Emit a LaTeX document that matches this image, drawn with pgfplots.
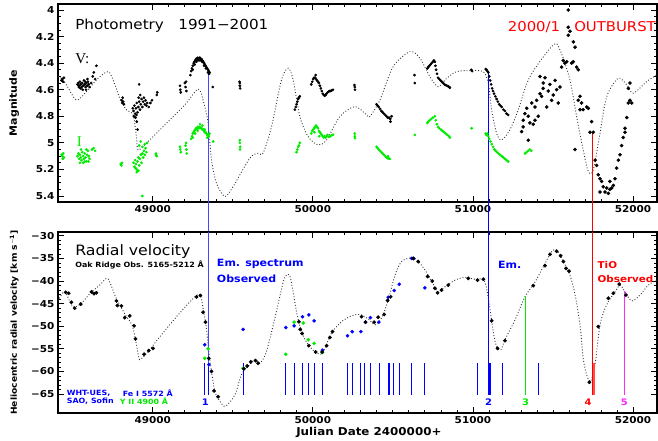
\documentclass[border=0pt]{standalone}
\usepackage{fontspec}
\setmainfont{DejaVu Sans}[FakeStretch=1.1]
\newfontfamily\seriffont{Liberation Serif}
\usepackage{pgfplots}
\pgfplotsset{compat=1.18}
\definecolor{cblue}{RGB}{0,0,255}
\definecolor{lblue}{RGB}{70,70,255}
\definecolor{cgreen}{RGB}{0,235,0}
\definecolor{cred}{RGB}{255,0,0}
\definecolor{cmag}{RGB}{255,40,255}
\newcommand\tickfont{\bfseries\fontsize{9.5}{10}\selectfont}
\pgfplotsset{
  base/.style={
    scale only axis, width=599pt, anchor=south west,
    xmin=48408, xmax=52150, clip=false,
    scaled x ticks=false, scaled y ticks=false,
    axis line style={line width=1.1pt},
    tick style={line width=0.8pt, black},
    major tick length=6pt, minor tick length=3pt, tick align=inside,
    xtick={49000,50000,51000,52000},
    xticklabels={49000,50000,51000,52000},
    minor x tick num=9,
    ticklabel style={font=\tickfont},
    label style={font=\bfseries\fontsize{10}{11}\selectfont},
  },
  dots/.style={only marks, mark=*, mark size=#1, mark options={draw=none}},
}
\begin{document}
\begin{tikzpicture}
\path[use as bounding box] (0pt,0pt) rectangle (658pt,441pt);
% ---------------- Photometry ----------------
\begin{axis}[base, at={(58pt,239pt)}, height=198pt, y dir=reverse,
  ymin=3.955, ymax=5.445,
  ytick={4,4.2,4.4,4.6,4.8,5,5.2,5.4},
  yticklabels={4,4.2,4.4,4.6,4.8,5,5.2,5.4},
  minor y tick num=3,
  ylabel={Magnitude},
  ylabel style={at={(axis description cs:-0.073,0.5)}, anchor=center}]
\addplot[black!80, dotted, line width=0.9pt, smooth, tension=0.5] coordinates {
(48408,4.50) (48429,4.514) (48461,4.564) (48523,4.677) (48586,4.614) (48658,4.514) (48721,4.464) (48752,4.526) (48794,4.664) (48836,4.752) (48877,4.790) (48898,4.953) (48908,5.053) (48961,5.002) (49075,4.865) (49200,4.714) (49283,4.596) (49314,4.677) (49346,4.852) (49367,5.128) (49398,5.303) (49450,5.404) (49502,5.329) (49606,5.115) (49658,5.078) (49689,5.078) (49742,4.878) (49804,4.526) (49846,4.438) (49877,4.526) (49919,4.802) (49971,4.953) (50033,5.015) (50086,4.978) (50169,4.802) (50263,4.727) (50336,4.790) (50356,4.802) (50419,4.677) (50502,4.426) (50606,4.314) (50669,4.363) (50731,4.502) (50783,4.577) (50836,4.514) (50898,4.464) (50981,4.456) (51064,4.464) (51096,4.551) (51117,4.752) (51148,4.927) (51179,4.978) (51231,4.902) (51283,4.752) (51356,4.502) (51502,4.263) (51544,4.301) (51606,4.526) (51648,4.802) (51689,5.053) (51721,5.216) (51752,5.203) (51794,4.927) (51836,4.652) (51908,4.514) (51961,4.564) (52002,4.626) (52085,4.539) (52148,4.489)};
% V small points
\addplot[dots=1.15pt, black] coordinates {
(48430,4.53) (48435,4.52) (48440,4.54) (48445,4.51)
(48530,4.56) (48535,4.55) (48540,4.57) (48545,4.54) (48550,4.56) (48555,4.58) (48560,4.55) (48565,4.57) (48570,4.53) (48575,4.56) (48580,4.58) (48585,4.55) (48590,4.57) (48595,4.54) (48600,4.56) (48605,4.58) (48548,4.59) (48562,4.60) (48578,4.54) (48592,4.52) (48538,4.58) (48583,4.60) (48615,4.55) (48625,4.50) (48632,4.47) (48640,4.52) (48648,4.42)
(48806,4.68) (48810,4.70) (48815,4.69) (48820,4.71) (48812,4.66)
(48875,4.74) (48880,4.76) (48885,4.72) (48890,4.78) (48895,4.74) (48900,4.70) (48905,4.77) (48910,4.73) (48915,4.69) (48920,4.75) (48925,4.71) (48930,4.67) (48935,4.73) (48940,4.69) (48945,4.66) (48950,4.71) (48955,4.68) (48960,4.72) (48965,4.70) (48975,4.73) (48985,4.70) (48995,4.68) (48882,4.80) (48892,4.81) (48898,4.79) (48912,4.66) (48922,4.64) (48900,4.84) (48905,4.90) (48915,4.56) (49025,4.64) (49028,4.62)
(49170,4.57) (49172,4.60) (49175,4.62) (49200,4.55) (49205,4.58) (49210,4.61) (49208,4.54)
(49235,4.49) (49240,4.46) (49245,4.44) (49250,4.42) (49255,4.40) (49260,4.39) (49265,4.38) (49270,4.37) (49275,4.37) (49280,4.36) (49285,4.37) (49290,4.36) (49295,4.36) (49300,4.37) (49305,4.37) (49310,4.38) (49315,4.39) (49320,4.40) (49325,4.41) (49330,4.42) (49335,4.43) (49340,4.44) (49345,4.45) (49350,4.46) (49355,4.47) (49250,4.45) (49262,4.41) (49272,4.39) (49282,4.38) (49295,4.38) (49308,4.39) (49320,4.42) (49332,4.44) (49345,4.47) (49352,4.48) (49375,4.58)
(49544,4.55) (49544,4.57) (49546,4.59) (49542,4.54)
(49888,4.75) (49893,4.73) (49898,4.71) (49903,4.69) (49908,4.67) (49913,4.66) (49918,4.65)
(49990,4.56) (49996,4.54) (50002,4.52) (50008,4.51) (50014,4.51) (50020,4.52) (50026,4.53) (50032,4.54) (50038,4.55) (50044,4.57) (50050,4.59) (50056,4.61) (50062,4.63) (50068,4.64) (50074,4.645) (50080,4.64) (50086,4.63) (50092,4.62) (50098,4.615) (50104,4.61) (50110,4.61) (50118,4.605) (50126,4.60) (50018,4.49)
(50262,4.58) (50263,4.60) (50260,4.565)
(50398,4.71) (50405,4.72) (50412,4.73) (50420,4.745) (50428,4.76) (50436,4.77) (50444,4.78) (50452,4.79) (50460,4.80) (50468,4.81) (50476,4.81) (50484,4.82) (50492,4.80) (50485,4.84)
(50635,4.49) (50637,4.55)
(50715,4.44) (50721,4.43) (50728,4.42) (50735,4.41) (50742,4.40) (50750,4.39) (50756,4.38) (50762,4.39) (50766,4.42) (50770,4.45) (50776,4.48) (50782,4.51) (50790,4.52) (50798,4.53) (50806,4.54) (50814,4.55) (50822,4.56) (50830,4.565) (50838,4.57) (50846,4.575) (50852,4.58) (50856,4.585)
(50990,4.45) (50995,4.46)
(51080,4.445) (51085,4.45) (51090,4.46) (51096,4.47) (51102,4.50) (51108,4.53) (51114,4.56) (51120,4.59) (51126,4.61) (51132,4.63) (51140,4.65) (51148,4.67) (51156,4.69) (51164,4.71) (51172,4.72) (51180,4.73) (51190,4.75) (51200,4.76) (51210,4.78) (51220,4.79)};
% V large points (outburst)
\addplot[dots=1.6pt, black] coordinates {
(51304,4.915) (51314,4.88) (51314,4.83) (51325,4.78) (51336,4.74) (51346,4.80) (51346,4.98) (51356,4.85) (51367,4.70) (51377,4.86) (51388,4.73) (51388,4.83) (51398,4.68) (51408,4.80) (51419,4.50) (51419,4.63) (51429,4.65) (51439,4.55) (51439,4.59) (51450,4.51) (51461,4.73) (51471,4.61) (51481,4.56) (51492,4.68) (51502,4.64) (51513,4.53) (51523,4.60) (51533,4.70) (51544,4.58) (51554,4.43) (51564,4.38) (51575,4.40) (51586,4.39) (51596,4.00) (51596,4.13) (51596,4.19) (51606,4.16) (51617,4.40) (51627,4.24) (51638,4.28) (51627,4.39) (51638,5.05) (51648,4.43) (51658,4.45) (51658,4.68) (51669,4.65) (51669,4.75) (51679,4.70) (51689,4.75) (51711,4.73) (51721,4.74) (51731,4.92) (51742,4.84) (51752,4.92) (51763,5.13) (51773,5.17) (51783,5.24) (51794,5.27) (51804,5.29) (51814,5.33) (51794,5.37) (51825,5.37) (51836,5.34) (51846,5.38) (51856,5.35) (51867,5.34) (51877,5.32) (51888,5.27) (51856,5.29) (51898,5.19) (51908,5.13) (51919,5.09) (51929,5.02) (51939,4.96) (51950,4.92) (51950,4.89) (51961,4.81) (51971,4.70) (51981,4.68) (51992,4.70) (51971,4.59) (51981,4.55)};
% I points
\addplot[dots=1.15pt, cgreen] coordinates {
(48430,5.09) (48435,5.10) (48440,5.08) (48445,5.11) (48438,5.12)
(48530,5.10) (48535,5.08) (48540,5.12) (48545,5.09) (48550,5.11) (48555,5.13) (48560,5.07) (48565,5.10) (48570,5.12) (48575,5.08) (48580,5.11) (48585,5.14) (48590,5.09) (48595,5.06) (48600,5.10) (48605,5.12) (48545,5.15) (48565,5.15) (48585,5.05) (48552,5.05) (48575,5.14) (48598,5.14) (48620,5.05) (48630,5.04) (48640,5.06)
(48800,5.16) (48804,5.17) (48808,5.15)
(48880,5.15) (48885,5.18) (48890,5.13) (48895,5.16) (48900,5.20) (48905,5.14) (48910,5.11) (48915,5.17) (48920,5.12) (48925,5.09) (48930,5.15) (48935,5.08) (48940,5.11) (48945,5.06) (48950,5.09) (48955,5.04) (48960,5.07) (48915,5.02) (48925,4.99) (48935,5.03) (48950,5.01) (48965,5.00) (48900,5.22) (48893,5.19) (48910,5.21) (49020,5.09) (49025,5.10) (49020,5.08) (48935,5.40)
(49170,5.03) (49172,5.05) (49175,5.07) (49205,5.02) (49208,5.00) (49210,5.05) (49212,5.08)
(49240,4.97) (49245,4.95) (49250,4.93) (49255,4.92) (49260,4.91) (49265,4.90) (49270,4.89) (49275,4.895) (49280,4.88) (49285,4.89) (49290,4.88) (49295,4.89) (49300,4.885) (49305,4.89) (49310,4.90) (49315,4.90) (49320,4.91) (49325,4.92) (49330,4.92) (49335,4.93) (49340,4.94) (49345,4.94) (49350,4.95) (49355,4.93) (49250,4.96) (49265,4.93) (49280,4.91) (49295,4.86) (49310,4.87) (49325,4.90) (49340,4.96) (49377,4.99)
(49544,4.98) (49544,5.00) (49546,5.03) (49545,5.05)
(49898,5.07) (49903,5.05) (49908,5.03) (49913,5.02) (49918,5.00)
(49990,4.93) (49996,4.91) (50002,4.90) (50008,4.89) (50014,4.88) (50020,4.87) (50026,4.88) (50032,4.89) (50038,4.91) (50044,4.92) (50050,4.93) (50056,4.94) (50062,4.95) (50068,4.96) (50074,4.95) (50080,4.96) (50086,4.95) (50092,4.94) (50100,4.955) (50110,4.95) (50120,4.94) (50127,4.94) (50010,4.92) (50040,4.95)
(50262,4.93) (50262,4.95) (50263,4.965)
(50398,5.03) (50405,5.04) (50412,5.05) (50420,5.06) (50428,5.07) (50436,5.08) (50444,5.09) (50452,5.10) (50460,5.11) (50468,5.115) (50476,5.12) (50481,5.12) (50470,5.10)
(50637,4.94)
(50715,4.85) (50721,4.84) (50730,4.83) (50740,4.82) (50750,4.81) (50762,4.80) (50768,4.83) (50775,4.86) (50782,4.88) (50790,4.89) (50800,4.90) (50810,4.91) (50820,4.92) (50830,4.93) (50840,4.94) (50850,4.95) (50856,4.96)
(50992,4.89)
(51080,4.93) (51085,4.94) (51090,4.93) (51096,4.95) (51102,4.97) (51110,4.99) (51118,5.01) (51126,5.03) (51134,5.05) (51142,5.06) (51150,5.07) (51160,5.08) (51170,5.09) (51180,5.10) (51190,5.11) (51200,5.12) (51210,5.13) (51220,5.14)
(51325,5.08) (51335,5.07) (51345,5.06) (51355,5.05) (51365,5.06)};
% long vertical lines (continue into the gap)
\addplot[lblue, line width=0.9pt] coordinates {(49350,4.47) (49350,5.67)};
\addplot[cblue, line width=0.9pt] coordinates {(51096,4.456) (51096,5.67)};
\addplot[cred, line width=0.9pt] coordinates {(51745,4.92) (51745,5.67)};
\node[anchor=west, inner sep=0pt, font=\fontsize{13.8}{14}\selectfont] at (axis cs:48515,4.12) {Photometry\ \ \ 1991−2001};
\node[anchor=west, inner sep=0pt, font=\seriffont\fontsize{15}{16}\selectfont] at (axis cs:48515,4.37) {V:};
\node[anchor=west, inner sep=0pt, text=cgreen, font=\seriffont\fontsize{15}{16}\selectfont] at (axis cs:48525,4.99) {I};
\node[anchor=east, text=cred, font=\fontsize{13.5}{14}\selectfont, inner sep=1pt] at (axis cs:52150,4.128) {2000/1\ \ \ OUTBURST};
\end{axis}
% ---------------- Radial velocity ----------------
\begin{axis}[base, at={(58pt,28pt)}, height=181pt,
  ymin=-69.2, ymax=-29.15,
  ytick={-65,-60,-55,-50,-45,-40,-35,-30},
  yticklabels={−65,−60,−55,−50,−45,−40,−35,−30},
  minor y tick num=4,
  ylabel={Heliocentric radial velocity [km s$^{\mathbf{-1}}$]},
  ylabel style={at={(axis description cs:-0.073,0.5)}, anchor=center, font=\bfseries\fontsize{8.3}{9}\selectfont},
  xlabel={Julian Date 2400000+},
  xlabel style={at={(axis description cs:0.519,-0.11)}, anchor=center, font=\bfseries\fontsize{10.8}{11}\selectfont}]
\addplot[black!80, dotted, line width=0.9pt, smooth, tension=0.5] coordinates {
(48408,-44.4) (48450,-42.4) (48502,-45.7) (48554,-44.9) (48617,-42.4) (48669,-40.9) (48711,-39.4) (48731,-40.2) (48763,-43.1) (48794,-45.3) (48836,-47.9) (48871,-49.7) (48892,-53.0) (48908,-56.0) (48919,-57.4) (48961,-56.0) (49054,-51.9) (49158,-47.5) (49263,-43.5) (49298,-43.1) (49314,-46.0) (49335,-50.4) (49350,-55.6) (49367,-60.0) (49388,-64.4) (49419,-66.6) (49454,-67.7) (49513,-65.2) (49554,-60.7) (49596,-58.9) (49638,-57.4) (49669,-58.2) (49710,-55.6) (49763,-48.2) (49815,-40.2) (49835,-38.7) (49856,-38.8) (49877,-42.4) (49898,-46.8) (49929,-51.2) (49971,-54.1) (50013,-55.6) (50050,-56.2) (50075,-54.9) (50117,-51.5) (50179,-49.0) (50242,-47.7) (50294,-47.4) (50346,-48.4) (50388,-49.7) (50429,-48.2) (50471,-44.2) (50513,-38.7) (50554,-35.7) (50606,-34.9) (50637,-35.0) (50679,-36.5) (50721,-38.7) (50762,-41.3) (50783,-42.4) (50825,-41.3) (50888,-39.8) (50950,-39.2) (51013,-39.6) (51065,-39.6) (51085,-41.6) (51106,-46.0) (51127,-51.2) (51148,-54.5) (51175,-55.2) (51200,-53.0) (51263,-48.6) (51325,-43.5) (51388,-40.2) (51440,-36.8) (51492,-33.5) (51523,-33.2) (51565,-35.7) (51606,-38.7) (51638,-43.0) (51669,-49.7) (51689,-57.1) (51710,-60.7) (51735,-62.2) (51763,-58.5) (51794,-49.7) (51835,-45.3) (51888,-42.4) (51919,-40.9) (51950,-42.4) (51992,-44.4) (52044,-43.1) (52096,-40.9) (52148,-39.8)};
% short observation ticks
\pgfplotsinvokeforeach{49325,49346,49566,49831,49883,49935,49971,50008,50060,50215,50246,50300,50321,50358,50415,50473,50478,50506,50538,50619,50698,51031,51102,51112,51183,51411}{
  \addplot[cblue, line width=0.9pt] coordinates {(#1,-58.2) (#1,-65.3)};
}
\addplot[cred!70, line width=0.9pt] coordinates {(51752,-58.2) (51752,-65.3)};
\addplot[cred!70, line width=0.9pt] coordinates {(51762,-58.2) (51762,-65.3)};
% long lines
\addplot[lblue, line width=0.9pt] coordinates {(49350,-29.15) (49350,-59.0)};
\addplot[cblue, line width=0.9pt] coordinates {(51096,-29.15) (51096,-65.3)};
\addplot[cred, line width=0.9pt] coordinates {(51745,-29.15) (51745,-65.3)};
\addplot[cgreen, line width=0.9pt] coordinates {(51327,-43.3) (51327,-65.3)};
\addplot[cmag, line width=0.9pt] coordinates {(51948,-42.2) (51948,-65.3)};
% blue and green points
\addplot[dots=1.6pt, cblue] coordinates {
(49325,-54.1) (49350,-58.5) (49564,-50.7) (49831,-50.3) (49883,-49.9) (49935,-47.9) (49975,-47.5) (50008,-48.8) (50060,-55.3) (50217,-52.1) (50246,-51.2) (50300,-51.2) (50329,-49.1) (50360,-48.1) (50412,-49.1) (50471,-43.6) (50508,-42.1) (50540,-40.7) (50617,-35.0) (50630,-35.0) (50700,-41.5)};
\addplot[dots=1.6pt, cgreen] coordinates {
(49325,-57.1) (49346,-55.0) (49564,-59.3) (49831,-56.2) (49883,-49.1) (49940,-49.3) (49971,-53.0) (50008,-53.8) (50060,-55.8)};
% black points
\addplot[dots=1.7pt, black] coordinates {
(48456,-42.5) (48475,-42.7) (48492,-44.7) (48512,-46.0) (48550,-45.1) (48617,-42.4) (48633,-42.8) (48648,-42.6) (48773,-44.4) (48779,-45.4) (48804,-45.5) (48825,-48.1) (48856,-47.7) (48883,-49.9) (48892,-52.8) (48946,-56.2) (48975,-55.4) (49002,-54.9) (49273,-43.5) (49298,-43.2) (49314,-46.9) (49329,-49.1) (49350,-57.1) (49367,-60.0) (49383,-64.3) (49408,-65.6) (49569,-59.4) (49590,-58.8) (49612,-57.9) (49642,-57.6) (49658,-58.2) (49913,-49.0) (49921,-50.7) (49933,-51.6) (49975,-54.3) (50017,-55.7) (50058,-55.7) (50086,-54.3) (50106,-52.5) (50123,-51.2) (50304,-47.9) (50329,-49.1) (50383,-49.1) (50408,-48.0) (50446,-47.4) (50467,-44.3) (50486,-43.5) (50627,-35.0) (50658,-35.7) (50717,-39.0) (50746,-40.0) (50762,-41.6) (50779,-42.6) (50804,-42.0) (50846,-40.9) (50971,-39.4) (51029,-39.8) (51065,-39.6) (51117,-48.8) (51154,-54.9) (51200,-53.2) (51377,-41.0) (51450,-36.6) (51481,-34.1) (51523,-33.4) (51548,-34.4) (51565,-35.7) (51581,-37.2) (51600,-37.8) (51727,-62.4) (51783,-50.1) (51846,-43.8) (51877,-42.7) (51914,-40.7) (51956,-43.1)};
% texts
\node[anchor=west, inner sep=0pt, font=\fontsize{14.3}{15}\selectfont] at (axis cs:48515,-33.4) {Radial velocity};
\node[anchor=west, inner sep=0pt, font=\bfseries\fontsize{7.2}{8}\selectfont] at (axis cs:48515,-36.5) {Oak Ridge Obs. 5165-5212 Å};
\node[anchor=west, inner sep=0pt, text=cblue, font=\bfseries\fontsize{10}{11}\selectfont] at (axis cs:49400,-36.3) {Em. spectrum};
\node[anchor=west, inner sep=0pt, text=cblue, font=\bfseries\fontsize{10}{11}\selectfont] at (axis cs:49400,-39.4) {Observed};
\node[anchor=west, inner sep=0pt, text=cblue, font=\bfseries\fontsize{10}{11}\selectfont] at (axis cs:51156,-36.5) {Em.};
\node[anchor=west, inner sep=0pt, text=cred, font=\bfseries\fontsize{9.4}{10}\selectfont] at (axis cs:51778,-36.5) {TiO};
\node[anchor=west, inner sep=0pt, text=cred, font=\bfseries\fontsize{9.4}{10}\selectfont] at (axis cs:51778,-39.6) {Observed};
\node[anchor=west, inner sep=0pt, text=cblue, font=\bfseries\fontsize{7.2}{8}\selectfont] at (axis cs:48462,-64.9) {WHT-UES,};
\node[anchor=west, inner sep=0pt, text=cblue, font=\bfseries\fontsize{7.2}{8}\selectfont] at (axis cs:48812,-64.9) {Fe I 5572 Å};
\node[anchor=west, inner sep=0pt, text=cblue, font=\bfseries\fontsize{7.2}{8}\selectfont] at (axis cs:48462,-66.7) {SAO, Sofin};
\node[anchor=west, inner sep=0pt, text=cgreen, font=\bfseries\fontsize{7.2}{8}\selectfont] at (axis cs:48794,-66.7) {Y II 4900 Å};
\node[text=cblue, font=\bfseries\fontsize{9}{10}\selectfont] at (axis cs:49329,-66.8) {1};
\node[text=cblue, font=\bfseries\fontsize{9}{10}\selectfont] at (axis cs:51098,-66.8) {2};
\node[text=cgreen, font=\bfseries\fontsize{9}{10}\selectfont] at (axis cs:51329,-66.8) {3};
\node[text=cred, font=\bfseries\fontsize{9}{10}\selectfont] at (axis cs:51720,-66.8) {4};
\node[text=cmag, font=\bfseries\fontsize{9}{10}\selectfont] at (axis cs:51946,-66.8) {5};
\end{axis}
\end{tikzpicture}
\end{document}
